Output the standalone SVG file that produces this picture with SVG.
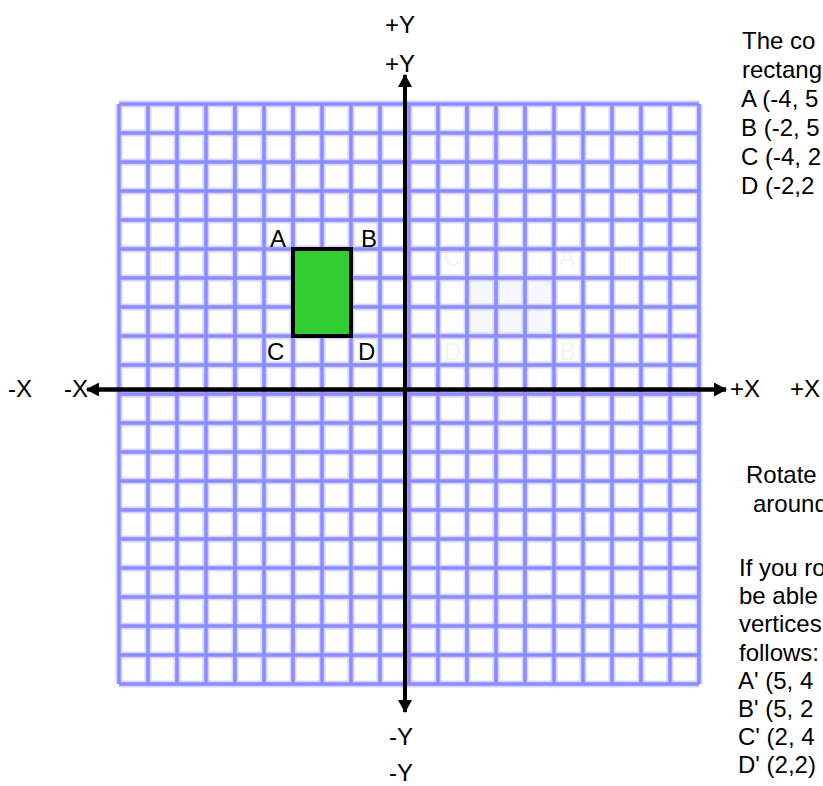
<svg xmlns="http://www.w3.org/2000/svg" xmlns:xlink="http://www.w3.org/1999/xlink" width="823" height="786" viewBox="0 0 823 786">
<style>
text{font-family:"Liberation Sans",Arial,sans-serif;font-size:24px;fill:#000}
.halo{fill:none;stroke:#d4d4ff;stroke-width:7}
.core{fill:none;stroke:#8c8cff;stroke-width:3.5}
.axis{stroke:#000;stroke-width:4;fill:none}
.ghost{fill:#f3f3f3}
</style>
<defs>
<marker id="arr" markerUnits="userSpaceOnUse" markerWidth="14" markerHeight="14" refX="12" refY="7" orient="auto">
<path d="M0 0L13 7L0 14Z" fill="#000"/>
</marker>
<path id="gridlines" d="M119 104V684M148 104V684M177 104V684M206 104V684M235 104V684M264 104V684M293 104V684M322 104V684M351 104V684M380 104V684M409 104V684M438 104V684M467 104V684M496 104V684M525 104V684M554 104V684M583 104V684M612 104V684M641 104V684M670 104V684M699 104V684M119 104H699M119 133H699M119 162H699M119 191H699M119 220H699M119 249H699M119 278H699M119 307H699M119 336H699M119 365H699M119 394H699M119 423H699M119 452H699M119 481H699M119 510H699M119 539H699M119 568H699M119 597H699M119 626H699M119 655H699M119 684H699"/>
</defs>
<rect width="823" height="786" fill="#fff"/>
<g id="ghost-image">
<rect x="467" y="274" width="89" height="60" fill="#f5f7fc"/>
<text class="ghost" x="444" y="266">C</text>
<text class="ghost" x="559" y="266">A</text>
<text class="ghost" x="444" y="360">D</text>
<text class="ghost" x="560" y="360">B</text>
</g>
<g id="grid">
<use xlink:href="#gridlines" class="halo"/>
<use xlink:href="#gridlines" class="core"/>
</g>
<g id="connectors">
<line class="axis" x1="405" y1="712" x2="405" y2="75" marker-end="url(#arr)"/>
<line class="axis" x1="405" y1="80" x2="405" y2="712" marker-end="url(#arr)"/>
<line class="axis" x1="726" y1="389.5" x2="87" y2="389.5" marker-end="url(#arr)"/>
<line class="axis" x1="90" y1="389.5" x2="726" y2="389.5" marker-end="url(#arr)"/>
</g>
<g id="rectangle">
<rect x="293" y="249" width="58" height="87" fill="#33cc33" stroke="#000" stroke-width="4"/>
<text x="270" y="247">A</text>
<text x="361" y="247">B</text>
<text x="267" y="360">C</text>
<text x="358" y="360">D</text>
</g>
<g id="axis-labels">
<text x="385" y="33">+Y</text>
<text x="385" y="72">+Y</text>
<text x="389" y="745">-Y</text>
<text x="389" y="781">-Y</text>
<text x="8" y="397">-X</text>
<text x="64" y="397">-X</text>
<text x="730" y="397">+X</text>
<text x="790" y="397">+X</text>
</g>
<g id="given-text">
<text x="742" y="49">The co</text>
<text x="742" y="78">rectang</text>
<text x="741" y="107">A (-4, 5</text>
<text x="741" y="136">B (-2, 5</text>
<text x="741" y="165">C (-4, 2</text>
<text x="741" y="194">D (-2,2</text>
</g>
<g id="rotate-text">
<text x="746" y="483">Rotate</text>
<text x="753" y="512">around</text>
</g>
<g id="answer-text">
<text x="739" y="576">If you ro</text>
<text x="739" y="604">be able</text>
<text x="739" y="632">vertices</text>
<text x="739" y="661">follows:</text>
<text x="738" y="689">A' (5, 4</text>
<text x="738" y="717">B' (5, 2</text>
<text x="738" y="745">C' (2, 4</text>
<text x="738" y="773">D' (2,2)</text>
</g>
</svg>
